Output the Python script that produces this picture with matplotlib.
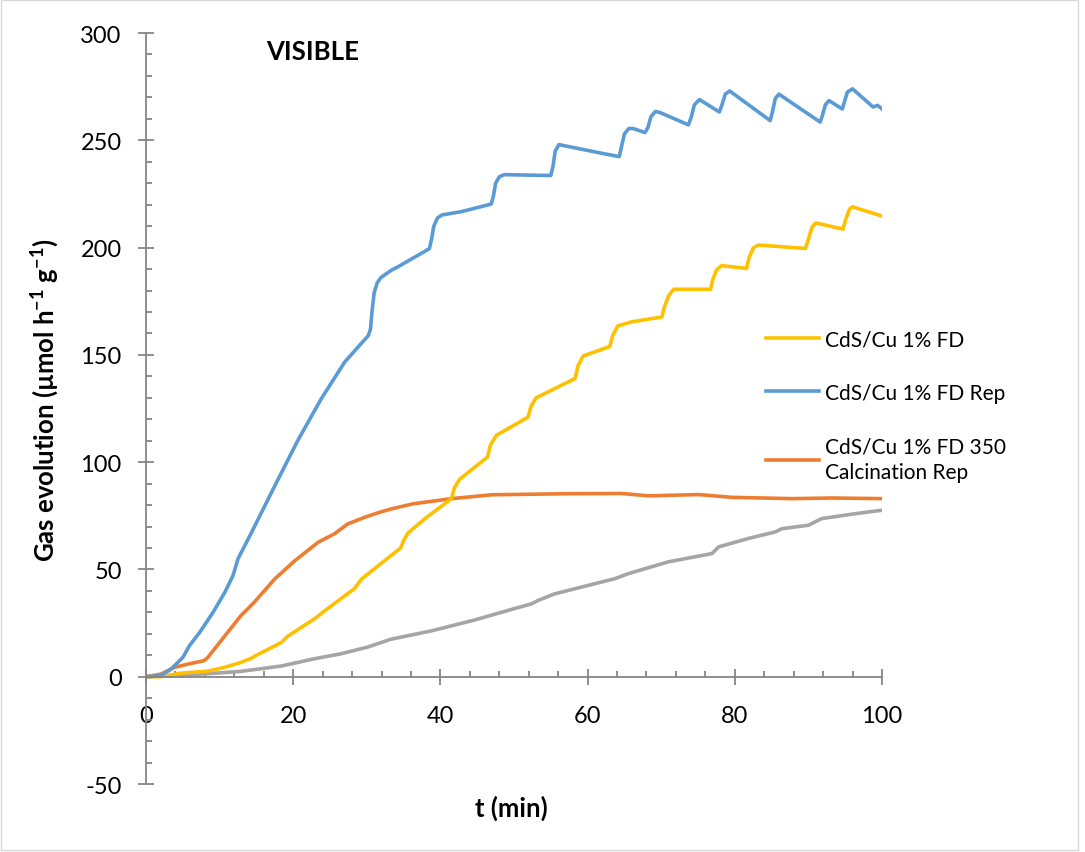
import matplotlib.pyplot as plt
from matplotlib.ticker import MultipleLocator
from matplotlib.patches import Rectangle

plt.rcParams['font.family'] = ['Lato', 'DejaVu Sans']
plt.rcParams['mathtext.fontset'] = 'custom'
plt.rcParams['mathtext.rm'] = 'Lato'
plt.rcParams['mathtext.bf'] = 'Lato:bold'
plt.rcParams['axes.unicode_minus'] = False

# CdS/Cu 1% FD (yellow)
t_fd = [0, 2, 4.8, 8.4, 10.7, 12.9, 14.3, 15.0, 18.4, 19.3, 22.9, 24.3, 28.3, 29.3, 33.3,
        34.6, 35.0, 35.6, 37.9, 41.5, 41.9, 42.6, 46.4, 46.8, 47.6, 51.9, 52.3, 53.0,
        58.3, 58.7, 59.4, 63.0, 63.4, 64.1, 66.0, 70.1, 70.4, 71.0, 71.7, 76.7, 77.0, 77.5,
        78.2, 81.6, 81.9, 82.5, 83.2, 89.6, 90.0, 90.5, 91.0, 94.7, 95.1, 95.6, 96.0, 100]
y_fd = [0, 0, 1.7, 2.6, 4.4, 6.7, 8.6, 10, 16, 19, 27, 30.8, 41, 45.6, 56.5,
        60, 63.5, 67, 73.7, 83, 88, 92, 102.4, 108, 112.5, 121, 126, 130,
        139, 145, 149.5, 153.9, 159, 163.5, 165.4, 167.7, 172, 177.5, 180.6, 180.6, 185, 189.5,
        191.6, 190.3, 195, 199.8, 201.2, 199.6, 204, 209.5, 211.5, 208.6, 213.5, 218, 219, 214.7]

# CdS/Cu 1% FD Rep (blue)
t_rep = [0, 2.0, 3.4, 5.0, 5.9, 7.3, 9.1, 10.7, 11.8, 12.5, 14.3, 17.5, 20.6, 23.8, 27.0,
         30.2, 30.5, 30.7, 31.0, 31.4, 31.9, 33.3, 34.2, 38.5, 38.8, 39.1, 39.6, 40.2, 42.9,
         46.9, 47.2, 47.5, 48.0, 48.7, 55.0, 55.3, 55.6, 56.1, 62.0, 64.3, 64.6, 65.0, 65.6,
         66.2, 67.8, 68.2, 68.6, 69.2, 69.8, 73.7, 74.1, 74.5, 75.2, 77.9, 78.3, 78.7, 79.3,
         84.8, 85.1, 85.5, 86.0, 91.6, 91.9, 92.3, 92.8, 94.6, 94.9, 95.3, 96.0, 98.8, 99.4,
         100]
y_rep = [0, 0.5, 3.6, 9, 14.5, 20.7, 30, 39.3, 47, 55, 67, 89, 110, 129.5, 146.7,
         159, 162, 170, 179, 183.5, 186, 189.4, 191, 199.5, 204, 210, 213.8, 215.2, 216.8,
         220.3, 224, 230, 233, 234, 233.6, 238, 245, 248, 243.9, 242.4, 247, 253, 255.5,
         255.5, 253.6, 256, 261, 263.4, 263, 257.2, 261, 266.5, 269, 263.2, 267, 271.5, 273,
         259.2, 263, 269.5, 271.5, 258.5, 261.5, 266.5, 268.5, 264.6, 268, 272.5, 274, 265.5, 266.3,
         264.6]

# CdS/Cu 1% FD 350 Calcination Rep (orange)
t_calc = [0, 2, 3.9, 5.7, 7.9, 8.4, 10.7, 12.9, 14.7, 17.5, 20.2, 23.4, 25.6, 27.4, 29.7,
          31.5, 33.3, 36.3, 41.5, 47.0, 57.4, 64.6, 68.3, 75.1, 79.6, 87.8, 93.2, 100]
y_calc = [0, 1.2, 4.4, 5.9, 7.5, 9, 19, 28.5, 34.7, 45.6, 54, 62.7, 66.6, 71.2, 74.3,
          76.4, 78.2, 80.6, 83, 84.8, 85.3, 85.4, 84.3, 84.9, 83.6, 83, 83.3, 83]

# fourth series without legend entry (grey)
t_grey = [0, 8.4, 12.9, 18.4, 22.9, 26.5, 30.1, 31.9, 33.3, 38.8, 44.5, 50.3, 52.4, 53.3,
          55.5, 63.7, 65.5, 70.9, 76.9, 77.8, 81.8, 85.5, 86.4, 90, 91.8, 96.4, 100]
y_grey = [0, 1.4, 2.5, 5, 8.4, 10.7, 13.8, 15.9, 17.5, 21.4, 26.3, 32, 34, 35.6,
          38.6, 45.7, 48, 53.5, 57.4, 60.5, 64.4, 67.5, 69, 70.6, 73.7, 76, 77.6]

fig = plt.figure(figsize=(10.85, 8.53), dpi=100)
ax = fig.add_axes([0.1346, 0.0797, 0.6783, 0.8804])

lw = 2.6
ax.plot(t_grey, y_grey, color='#a5a5a5', linewidth=lw)
l_calc, = ax.plot(t_calc, y_calc, color='#ed7d31', linewidth=lw)
l_fd, = ax.plot(t_fd, y_fd, color='#ffc000', linewidth=lw)
l_rep, = ax.plot(t_rep, y_rep, color='#5b9bd5', linewidth=lw)

ax.set_xlim(0, 100)
ax.set_ylim(-50, 300)

axis_col = '#868686'
ax.spines['left'].set_position(('data', 0))
ax.spines['bottom'].set_position(('data', 0))
ax.spines['top'].set_visible(False)
ax.spines['right'].set_visible(False)
for s in ('left', 'bottom'):
    ax.spines[s].set_color(axis_col)
    ax.spines[s].set_linewidth(1.3)

ax.xaxis.set_major_locator(MultipleLocator(20))
ax.xaxis.set_minor_locator(MultipleLocator(4))
ax.yaxis.set_major_locator(MultipleLocator(50))
ax.yaxis.set_minor_locator(MultipleLocator(10))
ax.tick_params(which='major', direction='inout', length=11, width=1.3, color=axis_col,
               labelsize=17, labelcolor='black')
ax.tick_params(axis='x', which='major', pad=15)
ax.tick_params(axis='y', which='major', pad=12)
ax.tick_params(which='minor', direction='in', length=4.5, width=1.3, color=axis_col)

ax.text(16.3, 291.5, 'VISIBLE', fontsize=18.5, fontweight='bold', va='center', ha='left')

fig.text(45 / 1085, 1 - 400 / 853,
         r'Gas evolution (µmol h$^{\mathbf{-1}}$ g$^{\mathbf{-1}}$)',
         rotation=90, fontsize=18.5, fontweight='bold', ha='center', va='center')
fig.text(511 / 1085, 1 - 808 / 853, 't (min)', fontsize=18.5, fontweight='bold',
         ha='center', va='center')

leg = ax.legend([l_fd, l_rep, l_calc],
                ['CdS/Cu 1% FD', 'CdS/Cu 1% FD Rep', 'CdS/Cu 1% FD 350\nCalcination Rep'],
                loc='upper left', bbox_to_anchor=(756 / 1085, 1 - 320 / 853),
                bbox_transform=fig.transFigure, frameon=False, fontsize=15,
                handlelength=2.5, handletextpad=0.3, labelspacing=1.6, borderpad=0)
for txt in leg.get_texts():
    txt.set_linespacing(1.35)

fig.patches.append(Rectangle((0.001, 0.002), 0.993, 0.997, transform=fig.transFigure,
                             fill=False, edgecolor='#d9d9d9', linewidth=1))

fig.savefig('out.png', dpi=100)
